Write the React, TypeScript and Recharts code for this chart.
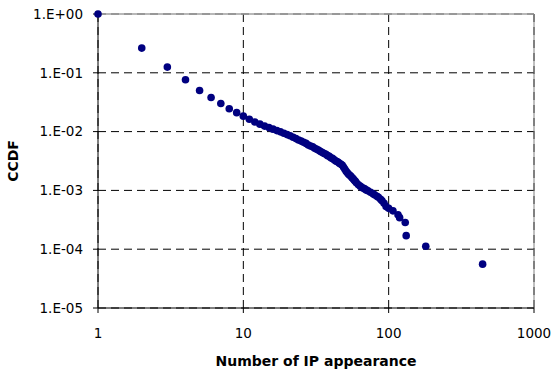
import React from "react";
import {
  ScatterChart,
  Scatter,
  XAxis,
  YAxis,
  CartesianGrid,
  ReferenceLine,
} from "recharts";

// Number of IP appearance (x) and its CCDF (y)
const ipCounts = [
  1, 2, 3, 4, 5, 6, 7, 8, 9, 10, 11, 12, 13, 14, 15, 16, 17, 18, 19, 20,
  21, 22, 23, 24, 25, 26, 27, 28, 29, 30, 31, 32, 33, 34, 35, 36, 37, 38, 39, 40,
  41, 42, 43, 44, 45, 46, 47, 48, 49, 50, 51, 52, 53, 54, 55, 56, 57, 58, 59, 60,
  62, 64, 66, 68, 70, 72, 75, 78, 80, 83, 85, 88, 90, 93, 96, 100, 107, 116, 119,
  130, 132, 180, 443,
];
const ccdfValues = [
  1, 0.263, 0.125, 0.076, 0.05, 0.038, 0.03, 0.0244, 0.021, 0.0183,
  0.0162, 0.0146, 0.0134, 0.0124, 0.0117, 0.011, 0.0104, 0.0099, 0.0094, 0.0089,
  0.0085, 0.008, 0.0076, 0.0072, 0.0069, 0.0066, 0.0063, 0.0059, 0.0057, 0.0055,
  0.0052, 0.005, 0.0048, 0.0046, 0.0044, 0.00425, 0.0041, 0.0039, 0.0038, 0.0036,
  0.0035, 0.00335, 0.0032, 0.0031, 0.003, 0.00287, 0.00278, 0.00268, 0.00247, 0.00229,
  0.00212, 0.00199, 0.00188, 0.00181, 0.00174, 0.00164, 0.00158, 0.00149, 0.00143, 0.00135,
  0.00125, 0.00117, 0.00111, 0.00107, 0.00102, 0.000985, 0.000929, 0.000875, 0.000841, 0.000794,
  0.000763, 0.000705, 0.000665, 0.000603, 0.00053, 0.000495, 0.000449, 0.000384, 0.000344,
  0.000285, 0.00017, 0.000112, 0.0000557,
];

const xTicks = [1, 10, 100, 1000];
const yTicks = [1, 0.1, 0.01, 0.001, 0.0001, 0.00001];

const NAVY = "#000080";
const FONT = "'DejaVu Sans', sans-serif";

const points = ipCounts.map((x, i) => ({ x, y: ccdfValues[i] }));

function sciLabel(v: number): string {
  const e = Math.round(Math.log10(v));
  const sign = e < 0 ? "-" : "+";
  return `1.E${sign}${String(Math.abs(e)).padStart(2, "0")}`;
}

const Dot = (props: any) => {
  const { cx, cy } = props;
  if (cx == null || cy == null) return null;
  return <circle cx={cx} cy={cy} r={3.8} fill={NAVY} />;
};

const tickStyle = { fill: "#000", fontSize: 13.5, fontFamily: FONT };

export default function App() {
  return (
    <div
      style={{
        position: "absolute",
        left: 0,
        top: 0,
        width: 554,
        height: 373,
        background: "#fff",
      }}
    >
      <ScatterChart
        width={554}
        height={373}
        margin={{ top: 14, right: 20, bottom: 0, left: 0 }}
      >
        <CartesianGrid stroke="#000" strokeDasharray="8 5" />
        <ReferenceLine y={1} stroke="#a0a0a0" strokeWidth={1.5} />
        <ReferenceLine x={1000} stroke="#808080" />
        <XAxis
          dataKey="x"
          type="number"
          scale="log"
          domain={[1, 1000]}
          ticks={xTicks}
          height={65}
          stroke="#000"
          tickSize={5}
          tickMargin={15}
          tick={tickStyle}
          label={{
            content: (p: any) => {
              const vb = p.viewBox;
              return (
                <text
                  x={vb.x + vb.width / 2}
                  y={366}
                  textAnchor="middle"
                  fontFamily={FONT}
                  fontWeight="bold"
                  fontSize={14}
                  fill="#000"
                >
                  Number of IP appearance
                </text>
              );
            },
          }}
        />
        <YAxis
          dataKey="y"
          type="number"
          scale="log"
          domain={[0.00001, 1]}
          ticks={yTicks}
          width={98}
          stroke="#000"
          tickSize={5}
          tickMargin={10}
          tick={tickStyle}
          tickFormatter={sciLabel}
          label={{
            content: (p: any) => {
              const vb = p.viewBox;
              const cx = 18;
              const cy = vb.y + vb.height / 2;
              return (
                <text
                  x={cx}
                  y={cy}
                  transform={`rotate(-90 ${cx} ${cy})`}
                  textAnchor="middle"
                  fontFamily={FONT}
                  fontWeight="bold"
                  fontSize={14}
                  fill="#000"
                >
                  CCDF
                </text>
              );
            },
          }}
        />
        <Scatter data={points} shape={<Dot />} isAnimationActive={false} />
      </ScatterChart>
    </div>
  );
}
